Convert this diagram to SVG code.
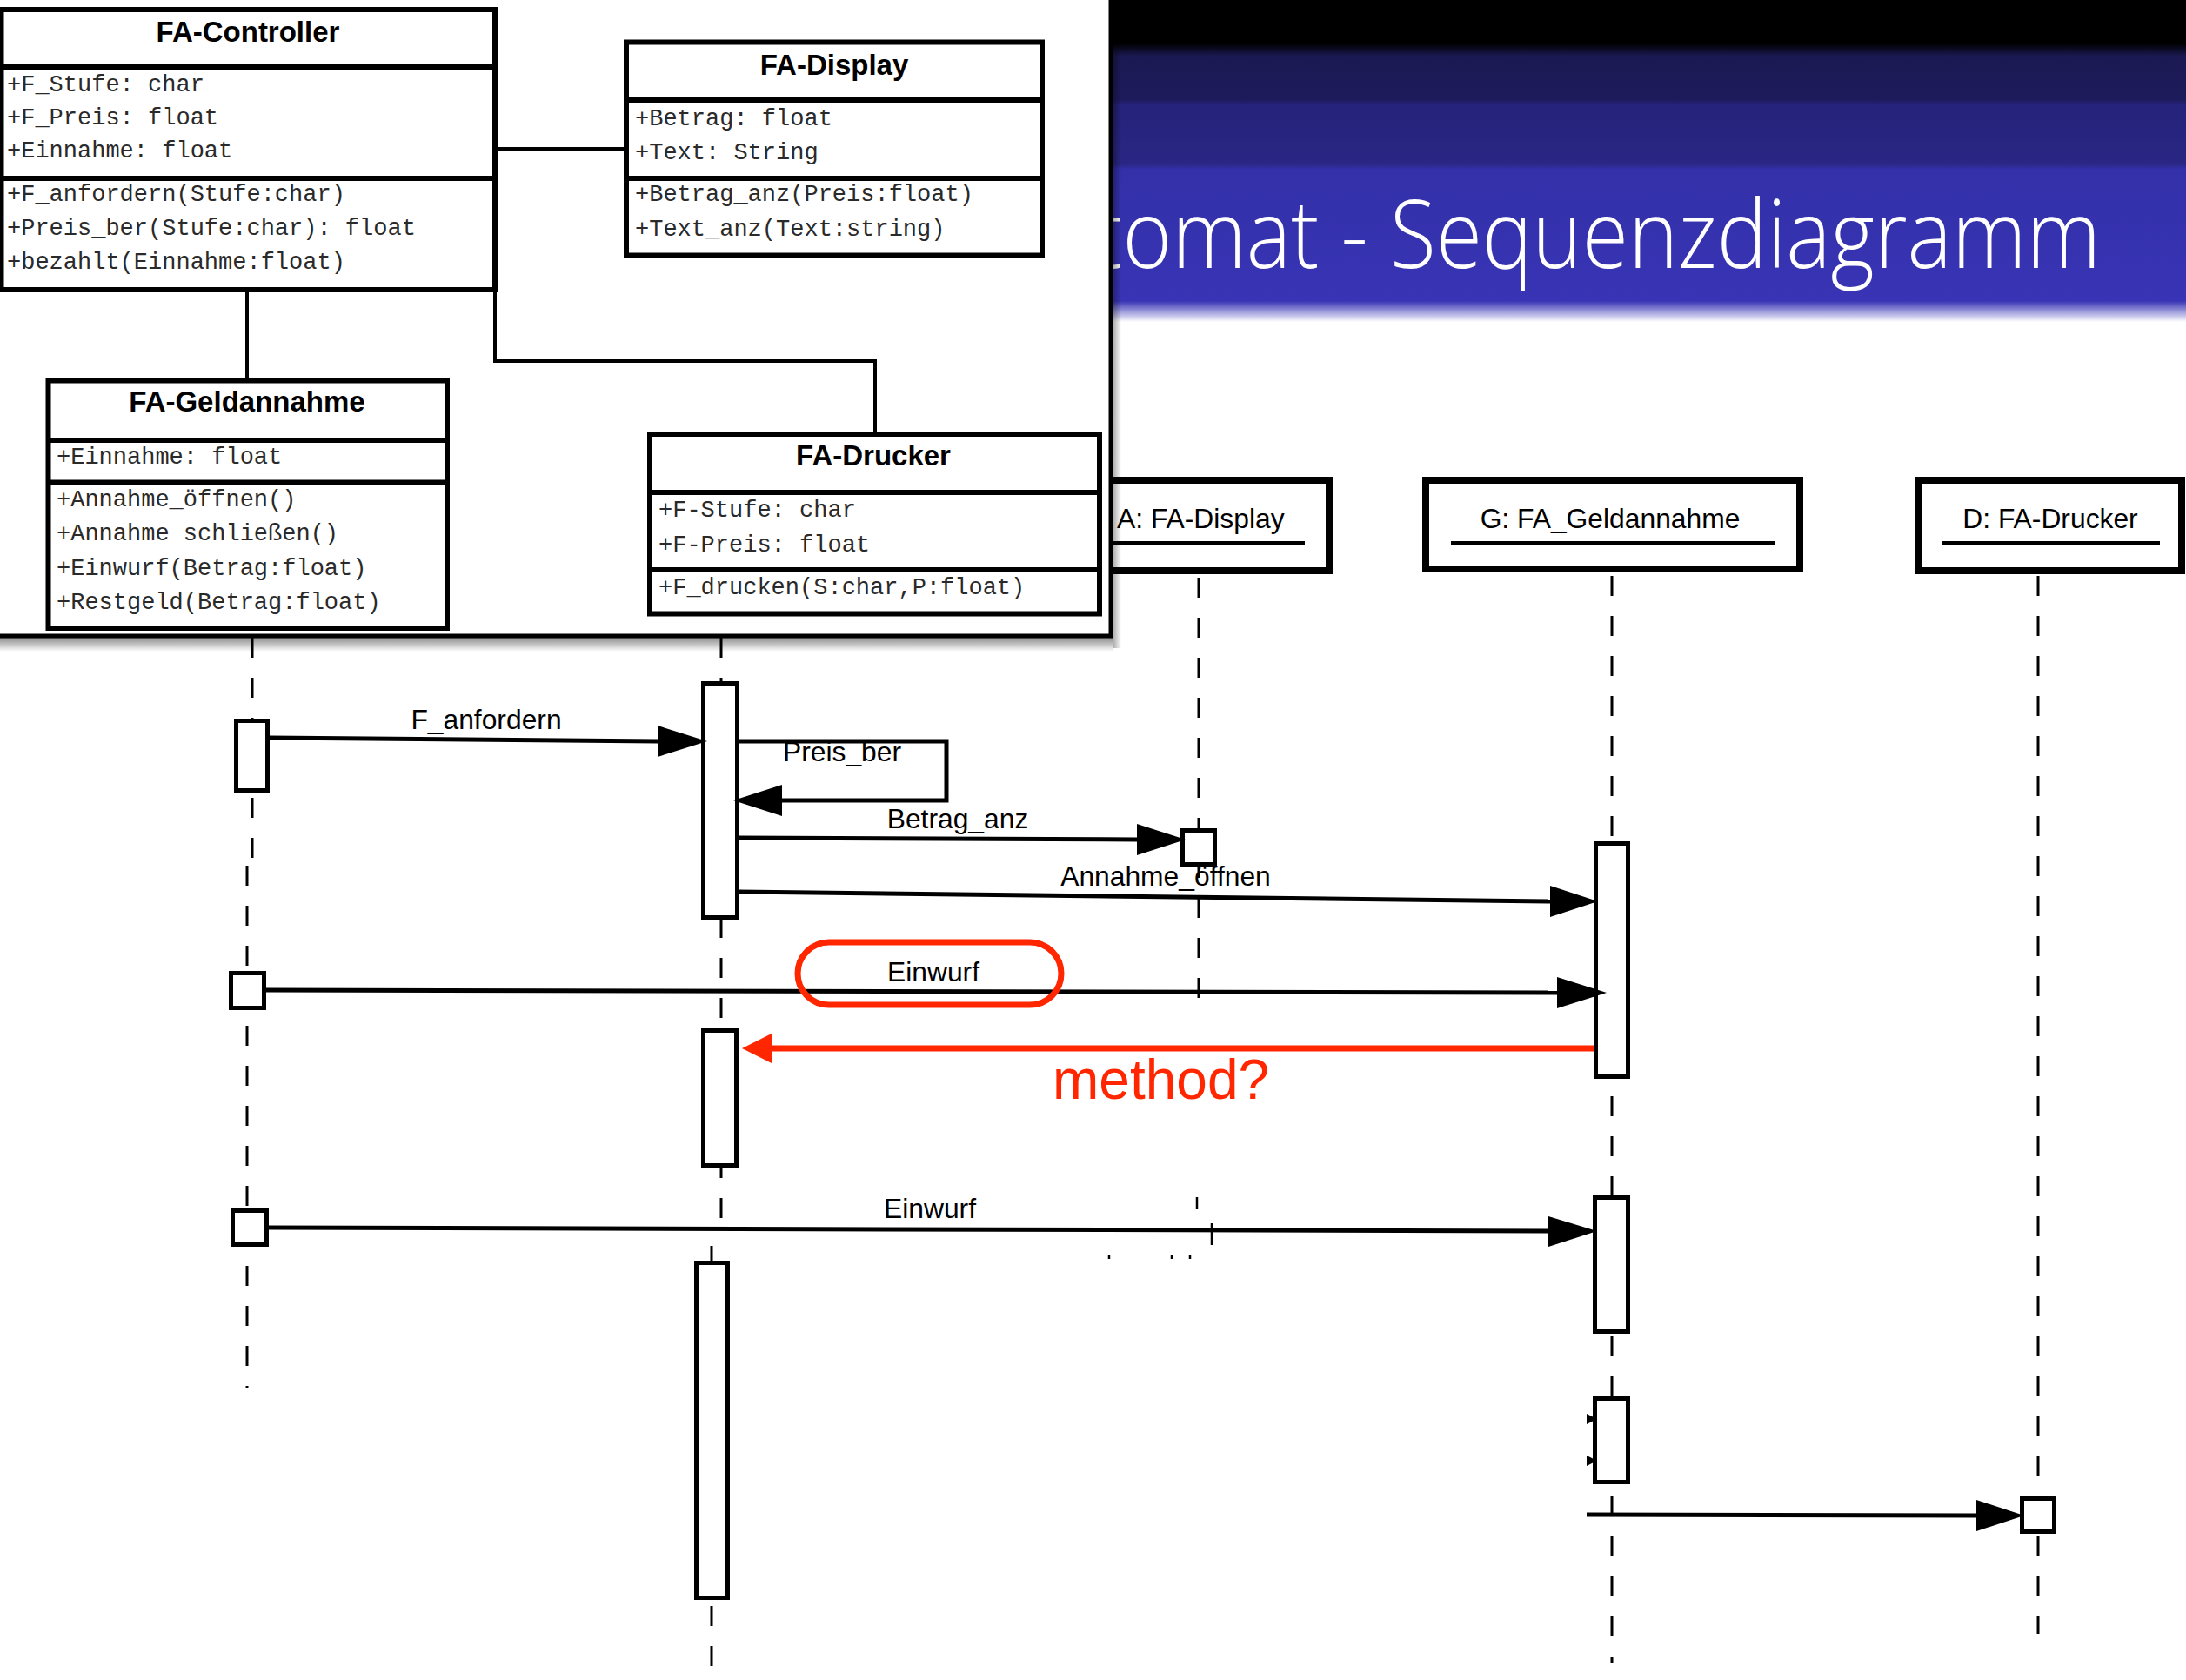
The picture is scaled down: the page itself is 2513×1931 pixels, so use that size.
<svg xmlns="http://www.w3.org/2000/svg" width="2513" height="1931" viewBox="0 0 2513 1931">
<defs>
<linearGradient id="bar" gradientUnits="userSpaceOnUse" x1="0" y1="0" x2="0" y2="370">
<stop offset="0" stop-color="#000"/>
<stop offset="0.135" stop-color="#000"/>
<stop offset="0.175" stop-color="#1b1953"/>
<stop offset="0.31" stop-color="#1e1b5c"/>
<stop offset="0.325" stop-color="#25227b"/>
<stop offset="0.51" stop-color="#2a2784"/>
<stop offset="0.525" stop-color="#3330a9"/>
<stop offset="0.935" stop-color="#3834b5"/>
<stop offset="1" stop-color="#ffffff"/>
</linearGradient>
<linearGradient id="shadowB" x1="0" y1="0" x2="0" y2="1">
<stop offset="0" stop-color="#000" stop-opacity="0.45"/>
<stop offset="1" stop-color="#000" stop-opacity="0"/>
</linearGradient>
<linearGradient id="shadowR" x1="0" y1="0" x2="1" y2="0">
<stop offset="0" stop-color="#000" stop-opacity="0.35"/>
<stop offset="1" stop-color="#000" stop-opacity="0"/>
</linearGradient>
</defs>
<style>
.cls{fill:#fff;stroke:#000;stroke-width:6}
.sep{stroke:#000;stroke-width:6}
.ttl{font-family:"Liberation Sans",Arial,sans-serif;font-weight:bold;font-size:33px;text-anchor:middle;fill:#000}
.mono{font-family:"Liberation Mono","Courier New",monospace;font-size:27px;fill:#2a2a2a}
.assoc{fill:none;stroke:#000;stroke-width:4}
.hdr{fill:#fff;stroke:#000;stroke-width:8}
.ul{stroke:#000;stroke-width:4}
.lbl{font-family:"Liberation Sans",Arial,sans-serif;font-size:31.8px;fill:#000}
.mid{text-anchor:middle}
.life{fill:none;stroke:#000;stroke-width:3;stroke-dasharray:23 23}
.act{fill:#fff;stroke:#000;stroke-width:5}
.msg{fill:none;stroke:#000;stroke-width:5}
.head{fill:#000}
.red{fill:none;stroke:#ff2600;stroke-width:7}
.redf{fill:#ff2600}
.tick{stroke:#000;stroke-width:2.5}
</style>
<rect width="2513" height="1931" fill="#fff"/>
<!-- title bar -->
<rect x="0" y="0" width="2513" height="370" fill="url(#bar)"/>
<text x="1258" y="308" font-family="'Open Sans',Lato,sans-serif" font-weight="300" font-size="108" fill="#fff" textLength="1157" lengthAdjust="spacingAndGlyphs">tomat - Sequenzdiagramm</text>

<!-- lifelines -->
<g id="lifelines">
<path class="life" d="M290 733 V990"/>
<path class="life" d="M284 995 V1595"/>
<path class="life" d="M829 733 V1410"/>
<path class="life" d="M818 1432 V1931"/>
<path class="life" d="M1378 664 V1156"/>
<path class="life" d="M1853 662 V1912"/>
<path class="life" d="M2343 662 V1878"/>
<path class="tick" d="M1376 1376 V1390 M1393 1406 V1431 M1275 1443 V1447 M1347 1443 V1447 M1368 1443 V1447"/>
</g>

<!-- sequence headers -->
<g id="hdr-A">
<rect class="hdr" x="1100" y="552" width="428" height="104"/>
<text class="lbl" x="1284" y="607">A: FA-Display</text>
<line class="ul" x1="1280" y1="624" x2="1500" y2="624"/>
</g>
<g id="hdr-G">
<rect class="hdr" x="1639" y="552" width="430" height="102"/>
<text class="lbl mid" x="1851" y="607">G: FA_Geldannahme</text>
<line class="ul" x1="1668" y1="624" x2="2041" y2="624"/>
</g>
<g id="hdr-D">
<rect class="hdr" x="2206" y="552" width="302" height="104"/>
<text class="lbl mid" x="2357" y="607">D: FA-Drucker</text>
<line class="ul" x1="2232" y1="624" x2="2483" y2="624"/>
</g>

<!-- activations -->
<g id="act-C1"><rect class="act" x="271.5" y="828.5" width="36" height="80"/></g>
<g id="act-C2"><rect class="act" x="265.5" y="1118.5" width="38" height="40"/></g>
<g id="act-C3"><rect class="act" x="267.5" y="1391.5" width="39" height="39"/></g>
<g id="act-B1"><rect class="act" x="808.5" y="785.5" width="39" height="269"/></g>
<g id="act-B2"><rect class="act" x="808.5" y="1184.5" width="38" height="155"/></g>
<g id="act-B3"><rect class="act" x="800.5" y="1451.5" width="36" height="385"/></g>
<g id="act-A1"><rect class="act" x="1359.5" y="954.5" width="37" height="39"/></g>
<g id="act-G1"><rect class="act" x="1834.5" y="969.5" width="37" height="268"/></g>
<g id="act-G2"><rect class="act" x="1833.5" y="1376.5" width="38" height="154"/></g>
<g id="act-G3"><rect class="act" x="1833.5" y="1607.5" width="38" height="96"/></g>
<g id="act-D1"><rect class="act" x="2324.5" y="1722.5" width="37" height="38"/></g>

<!-- messages -->
<g id="connectors">
<path class="msg" d="M310 848 L757 852"/>
<polygon class="head" points="813,852 756,834 756,870"/>
<text class="lbl mid" x="559" y="838">F_anfordern</text>

<path class="msg" d="M850 852 H1088 V920 H898"/>
<polygon class="head" points="843,920 899,902 899,938"/>
<text class="lbl mid" x="968" y="875">Preis_ber</text>

<path class="msg" d="M849 963 L1308 965"/>
<polygon class="head" points="1363,965 1307,947 1307,983"/>
<text class="lbl mid" x="1101" y="952">Betrag_anz</text>

<path class="msg" d="M849 1025 L1783 1036"/>
<polygon class="head" points="1837,1036 1782,1018 1782,1054"/>
<text class="lbl mid" x="1340" y="1018">Annahme_öffnen</text>

<path class="msg" d="M306 1138 L1791 1141"/>
<polygon class="head" points="1847,1141 1790,1123 1790,1159"/>
<text class="lbl mid" x="1073" y="1128">Einwurf</text>
<rect class="red" x="917" y="1083" width="303" height="72" rx="36" ry="36"/>

<path class="red" d="M1832 1205 H886"/>
<polygon class="redf" points="853,1205 887,1188 887,1222"/>
<text x="1210" y="1263" font-family="'Liberation Sans',Arial,sans-serif" font-size="64" fill="#ff2600">method?</text>

<path class="msg" d="M309 1411 L1781 1415"/>
<polygon class="head" points="1836,1415 1780,1398 1780,1433"/>
<text class="lbl mid" x="1069" y="1400">Einwurf</text>

<polygon class="head" points="1836,1631 1824,1625 1824,1637"/>
<polygon class="head" points="1836,1679 1824,1673 1824,1685"/>

<path class="msg" d="M1824 1741 L2273 1742"/>
<polygon class="head" points="2327,1742 2272,1724 2272,1760"/>
</g>

<!-- class diagram panel -->
<rect x="0" y="733" width="1280" height="16" fill="url(#shadowB)"/>
<rect x="1279" y="0" width="10" height="745" fill="url(#shadowR)"/>
<rect x="-4" y="-4" width="1281" height="735" fill="#fff" stroke="#000" stroke-width="5"/>

<g id="FA-Controller">
<rect class="cls" x="1.5" y="11" width="567.5" height="322"/>
<line class="sep" x1="1.5" y1="77" x2="569" y2="77"/>
<line class="sep" x1="1.5" y1="205" x2="569" y2="205"/>
<text class="ttl" x="285" y="48">FA-Controller</text>
<text class="mono" x="8" y="105">+F_Stufe: char</text>
<text class="mono" x="8" y="143">+F_Preis: float</text>
<text class="mono" x="8" y="181">+Einnahme: float</text>
<text class="mono" x="8" y="231">+F_anfordern(Stufe:char)</text>
<text class="mono" x="8" y="270">+Preis_ber(Stufe:char): float</text>
<text class="mono" x="8" y="309">+bezahlt(Einnahme:float)</text>
</g>

<g id="FA-Display">
<rect class="cls" x="720" y="48.5" width="478" height="245"/>
<line class="sep" x1="720" y1="115" x2="1198" y2="115"/>
<line class="sep" x1="720" y1="205" x2="1198" y2="205"/>
<text class="ttl" x="959" y="86">FA-Display</text>
<text class="mono" x="730" y="144">+Betrag: float</text>
<text class="mono" x="730" y="183">+Text: String</text>
<text class="mono" x="730" y="231">+Betrag_anz(Preis:float)</text>
<text class="mono" x="730" y="271">+Text_anz(Text:string)</text>
</g>

<g id="FA-Geldannahme">
<rect class="cls" x="55.5" y="437.5" width="458.5" height="284.5"/>
<line class="sep" x1="55.5" y1="506" x2="514" y2="506"/>
<line class="sep" x1="55.5" y1="554.5" x2="514" y2="554.5"/>
<text class="ttl" x="284" y="473">FA-Geldannahme</text>
<text class="mono" x="65" y="533">+Einnahme: float</text>
<text class="mono" x="65" y="582">+Annahme_öffnen()</text>
<text class="mono" x="65" y="621">+Annahme schließen()</text>
<text class="mono" x="65" y="661">+Einwurf(Betrag:float)</text>
<text class="mono" x="65" y="700">+Restgeld(Betrag:float)</text>
</g>

<g id="FA-Drucker">
<rect class="cls" x="747" y="499" width="517" height="206.5"/>
<line class="sep" x1="747" y1="566" x2="1264" y2="566"/>
<line class="sep" x1="747" y1="655" x2="1264" y2="655"/>
<text class="ttl" x="1004" y="535">FA-Drucker</text>
<text class="mono" x="757" y="594">+F-Stufe: char</text>
<text class="mono" x="757" y="634">+F-Preis: float</text>
<text class="mono" x="757" y="683">+F_drucken(S:char,P:float)</text>
</g>

<g id="associations">
<path class="assoc" d="M569 171 H720"/>
<path class="assoc" d="M284 333 V437"/>
<path class="assoc" d="M569 333 V415 H1006 V499"/>
</g>
</svg>
